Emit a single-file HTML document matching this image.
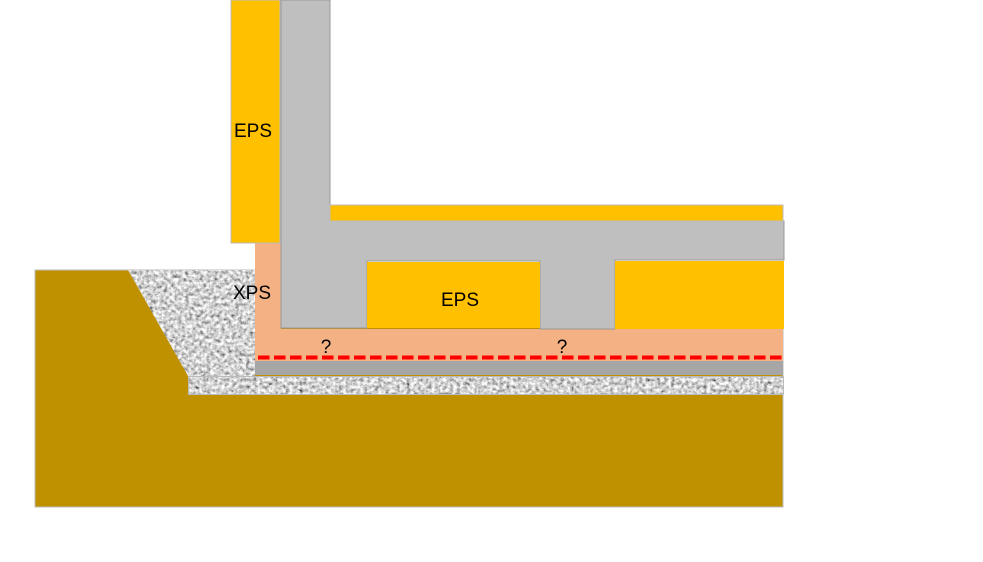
<!DOCTYPE html>
<html><head><meta charset="utf-8"><style>
html,body{margin:0;padding:0;background:#fff;width:983px;height:562px;overflow:hidden}
svg{display:block}
text{font-family:"Liberation Sans",sans-serif;font-size:19px;fill:#000}
</style></head><body>
<svg width="983" height="562" viewBox="0 0 983 562" xmlns="http://www.w3.org/2000/svg">
<defs>
<filter id="grav" x="0" y="0" width="100%" height="100%">
<feTurbulence type="fractalNoise" baseFrequency="0.28" numOctaves="3" seed="3" result="n"/>
<feColorMatrix in="n" type="saturate" values="0" result="g"/>
<feComponentTransfer in="g"><feFuncR type="linear" slope="2" intercept="-0.35"/><feFuncG type="linear" slope="2" intercept="-0.35"/><feFuncB type="linear" slope="2" intercept="-0.35"/><feFuncA type="linear" slope="0" intercept="1"/></feComponentTransfer>
<feComposite in2="SourceGraphic" operator="in"/>
</filter>
</defs>
<rect x="35" y="270" width="748" height="237" fill="#BF9000" stroke="#bbb" stroke-width="1"/>
<polygon points="128,270 255,270 255,376 188,376" fill="#999" filter="url(#grav)"/>
<rect x="188" y="376" width="596" height="19" fill="#999" filter="url(#grav)"/>
<rect x="188.5" y="376.5" width="595" height="18" fill="none" stroke="#bbb"/>
<rect x="255" y="361" width="528" height="14" fill="#A6A6A6"/>
<rect x="255" y="243" width="26" height="118" fill="#F4B183"/>
<rect x="255" y="329" width="528" height="32" fill="#F4B183"/>
<line x1="258" y1="357.5" x2="783" y2="357.5" stroke="#FF0000" stroke-width="4" stroke-dasharray="11.5,4.5"/>
<polygon points="281,0 330,0 330,221 784,221 784,260 615,260 615,329 540,329 540,261 367,261 367,328 281,328" fill="#BFBFBF" stroke="#999" stroke-width="1"/>
<rect x="231" y="0" width="49" height="243" fill="#FFC000" stroke="#bbb" stroke-width="1"/>
<rect x="330" y="205" width="453" height="16" fill="#FFC000" stroke="#bbb" stroke-width="1"/>
<rect x="367" y="262" width="173" height="66" fill="#FFC000"/>
<rect x="615" y="261" width="169" height="68" fill="#FFC000"/>
<text x="253" y="137" text-anchor="middle">EPS</text>
<text x="252" y="299" text-anchor="middle">XPS</text>
<text x="460" y="306" text-anchor="middle">EPS</text>
<text x="326" y="353" text-anchor="middle">?</text>
<text x="562" y="353" text-anchor="middle">?</text>
</svg>
</body></html>
